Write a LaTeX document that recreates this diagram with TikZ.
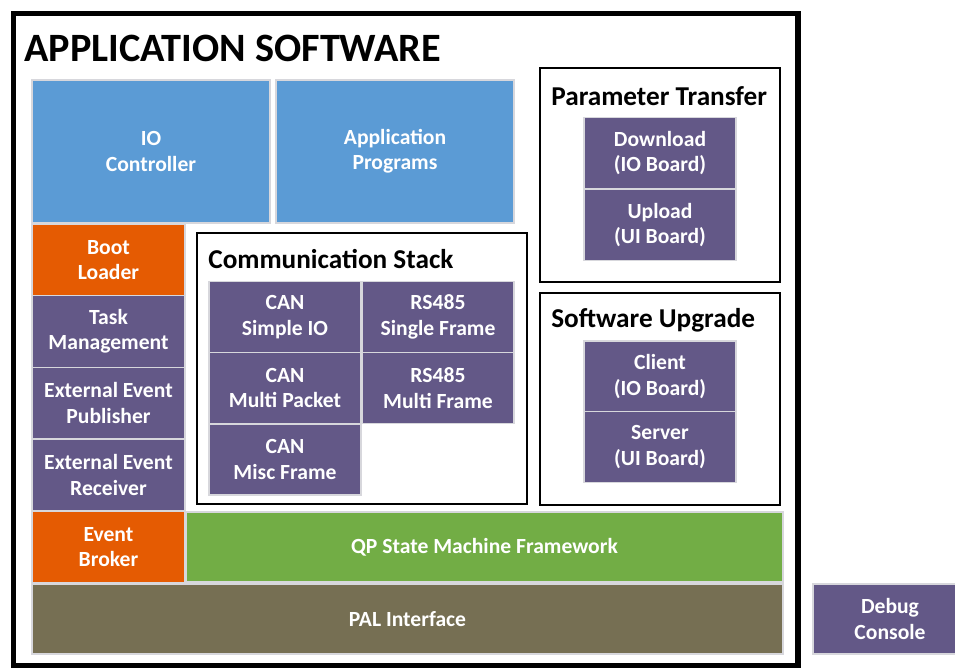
\documentclass[tikz,border=0pt]{standalone}
\usepackage{fontspec}
\setmainfont{Carlito}
\usepackage{xcolor}
\usepackage{tikz}
\usetikzlibrary{positioning}
\definecolor{appblue}{RGB}{91,155,213}
\definecolor{bootorange}{RGB}{229,91,2}
\definecolor{modpurple}{RGB}{99,88,135}
\definecolor{qpgreen}{RGB}{114,173,69}
\definecolor{palolive}{RGB}{118,111,83}
\definecolor{cellline}{RGB}{215,215,220}
\tikzstyle{cell} = [rectangle, draw=cellline, line width=0.6pt, text=white, align=center, inner sep=0pt, font=\bfseries\fontsize{12.3}{14.4}\selectfont]
\tikzstyle{bluecell} = [cell, fill=appblue, minimum width=4.76cm, minimum height=2.86cm]
\tikzstyle{sidecell} = [cell, fill=modpurple, minimum width=3.06cm, minimum height=1.43cm]
\tikzstyle{stackcell} = [cell, fill=modpurple, minimum width=3.04cm, minimum height=1.42cm]
\tikzstyle{group} = [draw=black, line width=1.2pt]
\tikzstyle{grouptitle} = [anchor=west, inner sep=0pt, font=\bfseries\fontsize{15.5}{18}\selectfont]

\begin{document}
\begin{tikzpicture}
\useasboundingbox (0,0) rectangle (19.1,13.38);
% outer frame
\draw[line width=3.4pt] (0.27,0.07) rectangle (15.96,13.11);
\node[anchor=west, inner sep=0pt, font=\bfseries\fontsize{22.9}{27}\selectfont] (apptitle) at (0.48,12.42) {APPLICATION SOFTWARE};
% top row
\node[bluecell] (ioctrl) at (3.02,10.35) {IO\\Controller};
\node[bluecell] (appprog) at (7.90,10.35) {Application\\Programs};
% left column
\node[sidecell, fill=bootorange] (boot) at (2.17,8.18) {Boot\\Loader};
\node[sidecell] (task) at (2.17,6.75) {Task\\Management};
\node[sidecell] (pub) at (2.17,5.32) {External Event\\Publisher};
\node[sidecell] (rec) at (2.17,3.88) {External Event\\Receiver};
\node[sidecell, fill=bootorange] (broker) at (2.17,2.44) {Event\\Broker};
% bottom layers
\node[cell, fill=qpgreen, minimum width=11.94cm, minimum height=1.40cm] (qp) at (9.69,2.44) {QP State Machine Framework};
\node[cell, fill=palolive, minimum width=15.02cm, minimum height=1.40cm] (pal) at (8.15,1.00) {PAL Interface};
\node[cell, fill=modpurple, minimum width=3.08cm, minimum height=1.40cm] (debug) at (17.80,1.00) {Debug\\Console};
% communication stack
\draw[group] (3.94,3.30) rectangle (10.54,8.72);
\node[grouptitle] (commtitle) at (4.16,8.20) {Communication Stack};
\node[stackcell] (cansimple) at (5.70,7.04) {CAN\\Simple IO};
\node[stackcell] (rssingle) at (8.76,7.04) {RS485\\Single Frame};
\node[stackcell] (canmulti) at (5.70,5.62) {CAN\\Multi Packet};
\node[stackcell] (rsmulti) at (8.76,5.62) {RS485\\Multi Frame};
\node[stackcell] (canmisc) at (5.70,4.19) {CAN\\Misc Frame};
% parameter transfer
\draw[group] (10.80,7.74) rectangle (15.60,12.02);
\node[grouptitle] (paramtitle) at (11.02,11.46) {Parameter Transfer};
\node[stackcell] (download) at (13.20,10.32) {Download\\(IO Board)};
\node[stackcell] (upload) at (13.20,8.88) {Upload\\(UI Board)};
% software upgrade
\draw[group] (10.80,3.28) rectangle (15.60,7.52);
\node[grouptitle] (upgtitle) at (11.02,6.98) {Software Upgrade};
\node[stackcell] (client) at (13.20,5.85) {Client\\(IO Board)};
\node[stackcell] (server) at (13.20,4.44) {Server\\(UI Board)};
\end{tikzpicture}
\end{document}
